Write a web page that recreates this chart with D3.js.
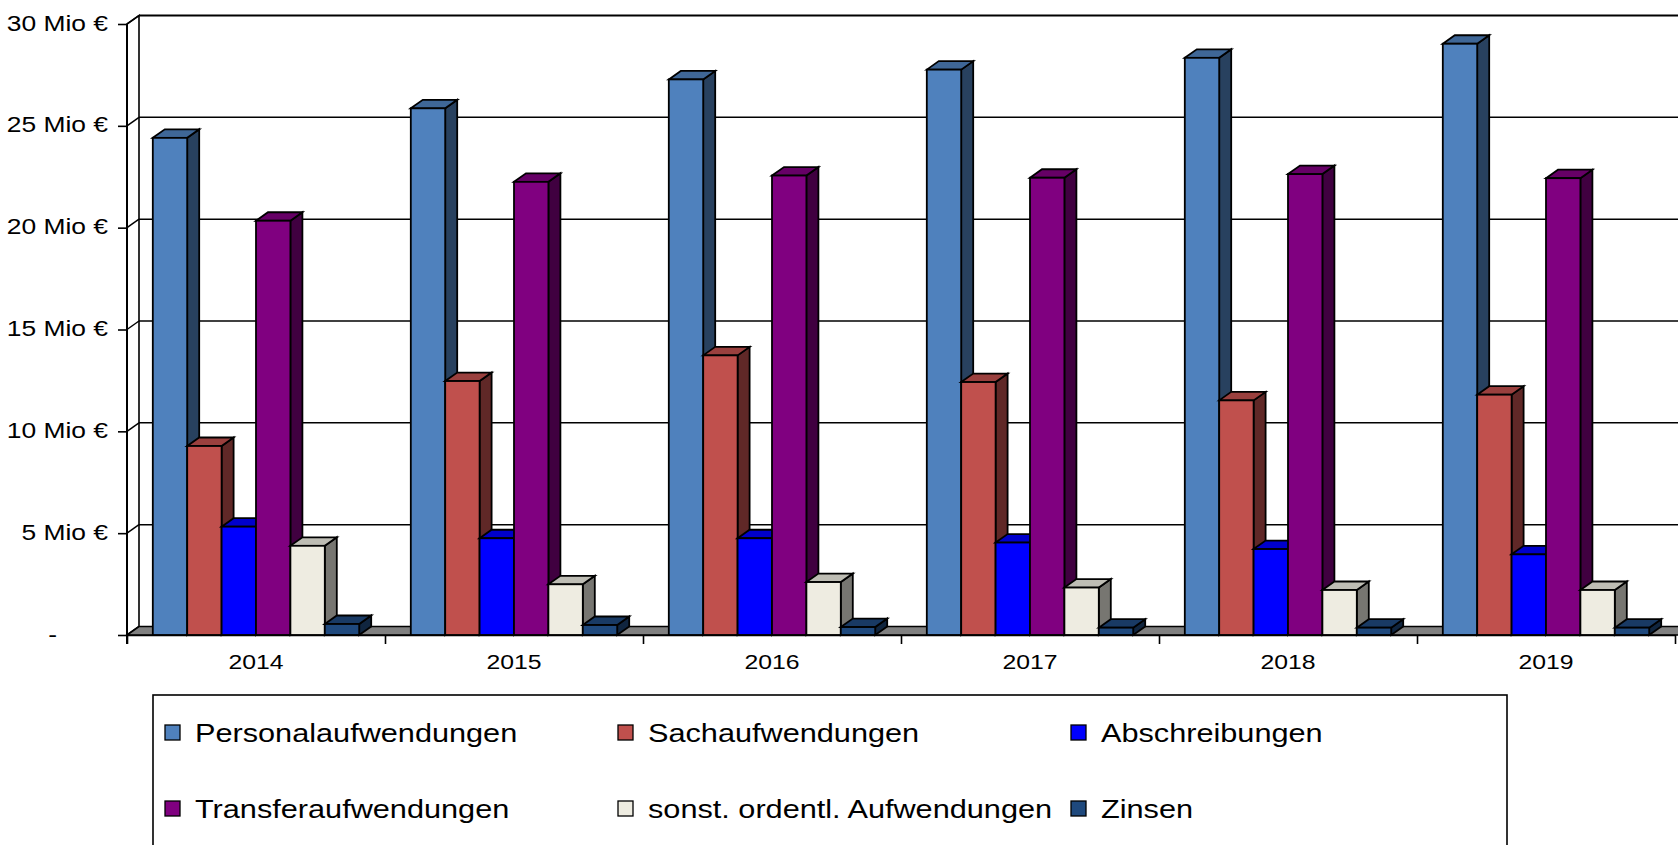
<!DOCTYPE html>
<html lang="de">
<head>
<meta charset="utf-8">
<title>Aufwendungen 2014–2019</title>
<script src="https://cdn.jsdelivr.net/npm/d3@7"></script>
<style>
  html, body { margin: 0; padding: 0; background: #fff; overflow: hidden; }
  svg { display: block; font-family: "Liberation Sans", Arial, sans-serif; }
</style>
</head>
<body>
<svg id="chart" width="1678" height="845"></svg>
<script>
// Jahre (Kategorien) und Reihen, Werte in Mio €
const categories = ["2014", "2015", "2016", "2017", "2018", "2019"];
const seriesNames = ["Personalaufwendungen", "Sachaufwendungen", "Abschreibungen",
                     "Transferaufwendungen", "sonst. ordentl. Aufwendungen", "Zinsen"];
const personalaufwendungen = [24.41, 25.86, 27.28, 27.76, 28.34, 29.03];
const sachaufwendungen     = [9.28, 12.47, 13.73, 12.42, 11.52, 11.80];
const abschreibungen       = [5.32, 4.75, 4.75, 4.54, 4.22, 3.96];
const transferaufwendungen = [20.34, 22.25, 22.56, 22.45, 22.63, 22.43];
const sonstAufwendungen    = [4.38, 2.49, 2.60, 2.33, 2.21, 2.21];
const zinsen               = [0.54, 0.49, 0.39, 0.36, 0.36, 0.36];
const yTicks = [0, 5, 10, 15, 20, 25, 30];
const seriesColors = ["#4F81BD", "#C0504D", "#0000FF", "#800080", "#EEECE1", "#1F497D"];

const seriesValues = [personalaufwendungen, sachaufwendungen, abschreibungen,
                      transferaufwendungen, sonstAufwendungen, zinsen];

const svg = d3.select("#chart");

// Plot geometry (front plane) and 3D depth offset
const left = 127, right = 1675, baseY = 635, topY = 24;
const depthX = 12, depthY = -8.5;
const textStretch = 1.18;

const x = d3.scaleBand().domain(categories).range([left, right]).padding(0);
const xInner = d3.scaleBand().domain(seriesNames).range([0, x.bandwidth()])
  .paddingInner(0).paddingOuter(0.75);
const y = d3.scaleLinear().domain([0, 30]).range([baseY, topY]);

const shade = (c, k) => { const r = d3.rgb(c); return d3.rgb(r.r * k, r.g * k, r.b * k).formatHex(); };

// Walls
const wall = svg.append("g");
const backRight = right + depthX + 20;
wall.append("rect")
  .attr("x", left + depthX).attr("y", y(30) + depthY)
  .attr("width", backRight - left - depthX).attr("height", y(0) - y(30))
  .attr("fill", "#fff");
wall.append("path")
  .attr("d", `M${left},${y(30)}L${left + depthX},${y(30) + depthY}L${left + depthX},${y(0) + depthY}L${left},${y(0)}Z`)
  .attr("fill", "#fff").attr("stroke", "#000").attr("stroke-width", 1.6);

// Gridlines on back wall and left wall
yTicks.filter(v => v > 0).forEach(v => {
  wall.append("line")
    .attr("x1", left + depthX).attr("x2", backRight)
    .attr("y1", y(v) + depthY).attr("y2", y(v) + depthY)
    .attr("stroke", "#000").attr("stroke-width", v === 30 ? 2.2 : 1.5);
  wall.append("line")
    .attr("x1", left).attr("y1", y(v))
    .attr("x2", left + depthX).attr("y2", y(v) + depthY)
    .attr("stroke", "#000").attr("stroke-width", 1.5);
});

// Floor
svg.append("path")
  .attr("d", `M${left},${y(0)}L${right + 40},${y(0)}L${right + 40},${y(0) + depthY}L${left + depthX},${y(0) + depthY}Z`)
  .attr("fill", "#808080").attr("stroke", "#000").attr("stroke-width", 1.6);

// Bars, painted left to right so each front face covers the neighbour's side face
const bars = [];
categories.forEach((cat, ci) => {
  seriesNames.forEach((s, si) => {
    bars.push({ cat, s, si, v: seriesValues[si][ci] });
  });
});
const barG = svg.append("g")
  .attr("stroke", "#000").attr("stroke-width", 1.8).attr("stroke-linejoin", "miter");
const bw = xInner.bandwidth();
bars.forEach(d => {
  const x0 = x(d.cat) + xInner(d.s), x1 = x0 + bw;
  const yt = y(d.v), yb = y(0);
  const col = seriesColors[d.si];
  const g = barG.append("g");
  g.append("path")
    .attr("d", `M${x1},${yt}L${x1 + depthX},${yt + depthY}L${x1 + depthX},${yb + depthY}L${x1},${yb}Z`)
    .attr("fill", shade(col, 0.5));
  g.append("path")
    .attr("d", `M${x0},${yt}L${x0 + depthX},${yt + depthY}L${x1 + depthX},${yt + depthY}L${x1},${yt}Z`)
    .attr("fill", shade(col, 0.8));
  g.append("rect")
    .attr("x", x0).attr("y", yt).attr("width", bw).attr("height", yb - yt)
    .attr("fill", col);
});

// Y axis
const yAxis = d3.axisLeft(y).tickValues(yTicks).tickSize(9).tickSizeOuter(0)
  .tickFormat(d => d === 0 ? "-" : `${d} Mio €`);
const yAxisG = svg.append("g").attr("transform", `translate(${left},0)`).call(yAxis);
yAxisG.select(".domain").attr("stroke", "#000").attr("stroke-width", 2)
  .attr("d", `M0,${y(30)}V${y(0) + 9}`);
yAxisG.selectAll(".tick line").attr("stroke", "#000").attr("stroke-width", 1.6);
yAxisG.selectAll(".tick text")
  .attr("x", null).attr("dy", null)
  .attr("fill", "#000").attr("font-size", 22)
  .attr("font-family", "'Liberation Sans', Arial, sans-serif")
  .attr("transform", d => d === 0 ? `translate(-70,6) scale(1.2,1)` : `translate(-19,6) scale(1.2,1)`);

// X axis: boundary ticks between years, labels centred on each year
const xEdges = d3.scaleLinear().domain([0, categories.length]).range([left, right]);
const xAxis = d3.axisBottom(xEdges).tickValues(d3.range(categories.length + 1))
  .tickSize(9).tickSizeOuter(0).tickFormat("");
const xAxisG = svg.append("g").attr("transform", `translate(0,${baseY})`).call(xAxis);
xAxisG.select(".domain").attr("stroke", "#000").attr("stroke-width", 1.6);
xAxisG.selectAll(".tick line").attr("stroke", "#000").attr("stroke-width", 1.6);

svg.append("g").selectAll("text").data(categories).join("text")
  .attr("text-anchor", "middle").attr("font-size", 21).attr("fill", "#000")
  .attr("transform", d => `translate(${x(d) + x.bandwidth() / 2},669) scale(${textStretch},1)`)
  .text(d => d);

// Legend
const legend = svg.append("g");
legend.append("rect")
  .attr("x", 153).attr("y", 695).attr("width", 1354).attr("height", 200)
  .attr("fill", "#fff").attr("stroke", "#000").attr("stroke-width", 1.6);
const colX = [165, 618, 1071];
const rowY = [725, 801];
seriesNames.forEach((s, i) => {
  const cx = colX[i % 3], cy = rowY[Math.floor(i / 3)];
  legend.append("rect")
    .attr("x", cx).attr("y", cy).attr("width", 15).attr("height", 15)
    .attr("fill", seriesColors[i]).attr("stroke", "#000").attr("stroke-width", 1.3);
  legend.append("text")
    .attr("font-size", 26).attr("fill", "#000")
    .attr("transform", `translate(${cx + 30},${cy + 17}) scale(1.18,1)`)
    .text(s);
});
</script>
</body>
</html>
